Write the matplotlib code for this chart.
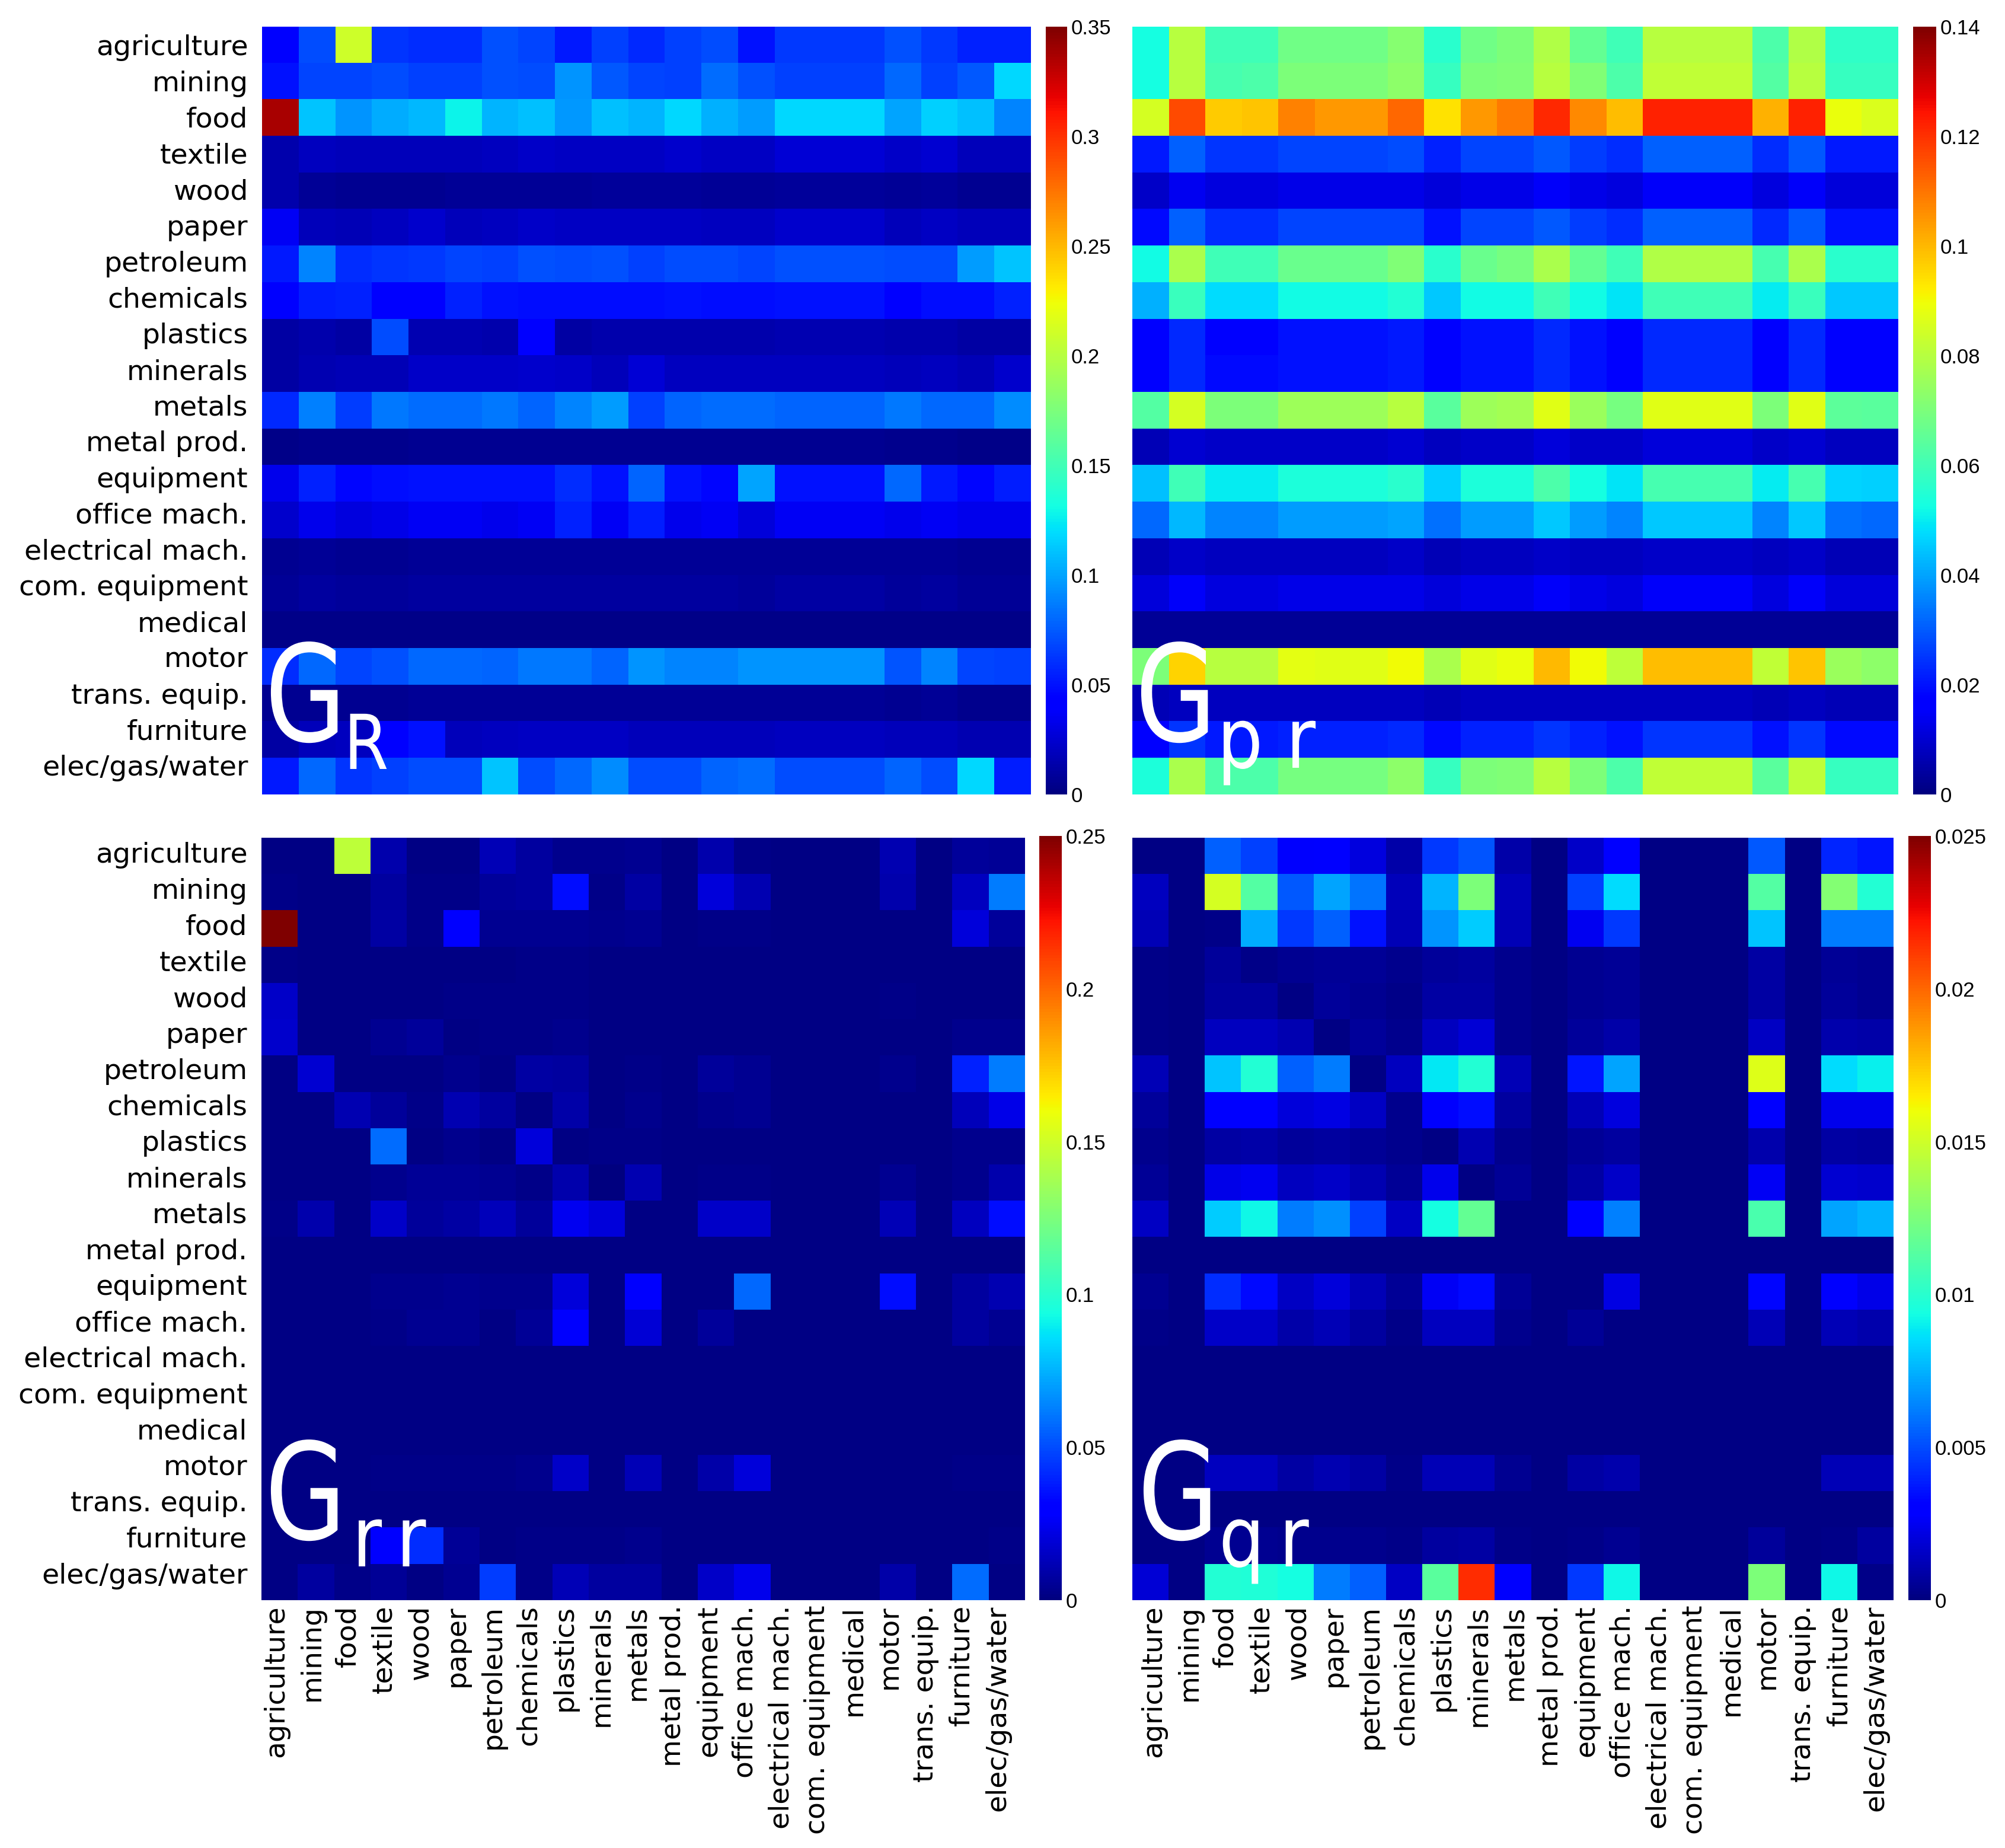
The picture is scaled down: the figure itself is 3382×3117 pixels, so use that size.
import matplotlib
matplotlib.use("Agg")
import matplotlib.patheffects as pe
import matplotlib.pyplot as plt
import numpy as np
from matplotlib.transforms import Affine2D

W, H = 3382, 3117

sectors = ["agriculture", "mining", "food", "textile", "wood", "paper", "petroleum",
           "chemicals", "plastics", "minerals", "metals", "metal prod.", "equipment",
           "office mach.", "electrical mach.", "com. equipment", "medical", "motor",
           "trans. equip.", "furniture", "elec/gas/water"]

G_R = [
    [.045, .07, .21, .062, .06, .06, .072, .068, .052, .066, .058, .066, .07, .05, .064, .064, .064, .072, .064, .055, .056],
    [.05, .068, .068, .07, .066, .066, .072, .07, .095, .074, .068, .066, .082, .072, .066, .066, .066, .08, .066, .074, .118],
    [.337, .112, .095, .103, .108, .128, .106, .11, .097, .11, .106, .118, .104, .098, .118, .118, .118, .1, .115, .11, .09],
    [.014, .02, .018, .019, .019, .019, .02, .022, .021, .021, .021, .024, .021, .021, .026, .026, .026, .022, .025, .019, .019],
    [.014, .007, .006, .006, .006, .007, .008, .008, .008, .009, .009, .009, .008, .008, .009, .009, .009, .008, .009, .006, .006],
    [.036, .018, .017, .02, .024, .018, .02, .022, .021, .021, .021, .021, .02, .02, .024, .024, .024, .019, .021, .018, .018],
    [.052, .09, .06, .062, .064, .068, .066, .072, .07, .072, .066, .07, .07, .068, .072, .072, .072, .07, .07, .098, .112],
    [.04, .054, .055, .045, .045, .056, .05, .048, .048, .048, .048, .05, .048, .048, .05, .05, .05, .044, .048, .048, .056],
    [.012, .014, .012, .07, .016, .016, .014, .04, .012, .014, .014, .014, .014, .014, .016, .016, .016, .014, .014, .012, .012],
    [.012, .016, .017, .017, .022, .023, .022, .024, .023, .018, .026, .02, .02, .02, .02, .02, .02, .019, .02, .017, .024],
    [.058, .088, .065, .085, .082, .082, .086, .078, .09, .098, .066, .078, .082, .082, .078, .078, .078, .086, .08, .08, .092],
    [.004, .005, .005, .005, .006, .006, .006, .006, .006, .006, .006, .006, .006, .006, .006, .006, .006, .005, .005, .004, .004],
    [.034, .055, .046, .048, .05, .05, .05, .05, .06, .05, .078, .05, .046, .1, .05, .05, .05, .08, .052, .046, .054],
    [.024, .034, .03, .032, .036, .036, .034, .036, .056, .036, .054, .034, .036, .028, .036, .036, .036, .034, .036, .034, .034],
    [.006, .007, .006, .006, .007, .007, .007, .007, .007, .007, .007, .007, .007, .007, .008, .008, .008, .007, .007, .006, .006],
    [.008, .01, .009, .009, .01, .01, .01, .01, .01, .01, .01, .01, .01, .009, .011, .011, .011, .009, .01, .008, .008],
    [.003, .003, .003, .003, .003, .003, .003, .003, .003, .003, .003, .003, .003, .003, .003, .003, .003, .003, .003, .003, .003],
    [.06, .08, .068, .072, .08, .08, .078, .085, .085, .078, .095, .09, .09, .095, .095, .095, .095, .073, .09, .068, .066],
    [.006, .006, .006, .006, .007, .007, .007, .007, .007, .007, .007, .007, .007, .007, .007, .007, .007, .006, .007, .005, .005],
    [.012, .018, .02, .042, .05, .018, .02, .021, .021, .021, .019, .019, .019, .019, .02, .02, .02, .019, .019, .016, .016],
    [.052, .08, .062, .066, .07, .07, .112, .07, .08, .092, .07, .07, .078, .082, .07, .07, .07, .078, .07, .118, .054],
]

G_pr = [
    [.053, .08, .06, .06, .068, .068, .068, .072, .056, .068, .07, .079, .066, .06, .08, .08, .08, .062, .079, .057, .057],
    [.053, .08, .061, .062, .07, .07, .07, .073, .058, .07, .071, .08, .071, .062, .082, .082, .082, .063, .08, .058, .058],
    [.085, .116, .097, .098, .108, .105, .105, .112, .094, .105, .109, .121, .107, .099, .122, .122, .122, .101, .122, .089, .086],
    [.021, .031, .025, .025, .027, .027, .027, .028, .022, .027, .027, .03, .026, .024, .031, .031, .031, .024, .03, .021, .021],
    [.009, .014, .012, .012, .013, .013, .013, .013, .011, .013, .013, .015, .013, .012, .015, .015, .015, .012, .015, .011, .011],
    [.019, .031, .024, .024, .027, .027, .027, .027, .02, .027, .027, .03, .026, .024, .031, .031, .031, .023, .03, .02, .02],
    [.052, .078, .06, .06, .067, .067, .067, .071, .056, .067, .069, .078, .066, .06, .079, .079, .079, .061, .078, .056, .056],
    [.042, .059, .048, .048, .052, .052, .052, .055, .045, .052, .052, .06, .052, .049, .06, .06, .06, .05, .059, .045, .045],
    [.016, .023, .018, .018, .02, .02, .02, .021, .017, .02, .02, .023, .02, .018, .023, .023, .023, .018, .023, .017, .017],
    [.016, .023, .019, .019, .02, .02, .02, .021, .017, .02, .02, .023, .02, .018, .023, .023, .023, .018, .023, .017, .017],
    [.063, .085, .07, .07, .076, .076, .076, .08, .064, .076, .077, .087, .075, .069, .087, .087, .087, .07, .087, .065, .064],
    [.007, .01, .009, .009, .009, .009, .009, .01, .008, .009, .009, .011, .009, .009, .011, .011, .011, .009, .01, .008, .008],
    [.044, .06, .05, .05, .054, .054, .054, .056, .046, .054, .054, .062, .053, .049, .061, .061, .061, .05, .061, .047, .046],
    [.032, .043, .036, .036, .039, .039, .039, .04, .033, .039, .039, .045, .039, .036, .045, .045, .045, .036, .045, .033, .032],
    [.007, .009, .008, .008, .008, .008, .008, .009, .007, .008, .008, .009, .008, .008, .009, .009, .009, .008, .009, .007, .007],
    [.011, .015, .012, .012, .013, .013, .013, .013, .011, .013, .013, .015, .013, .012, .015, .015, .015, .012, .015, .011, .011],
    [.003, .003, .003, .003, .003, .003, .003, .003, .003, .003, .003, .003, .003, .003, .003, .003, .003, .003, .003, .003, .003],
    [.07, .096, .08, .08, .088, .087, .087, .09, .078, .087, .089, .1, .09, .081, .099, .099, .099, .082, .098, .075, .073],
    [.007, .008, .008, .008, .008, .008, .008, .008, .007, .008, .008, .008, .008, .008, .008, .008, .008, .007, .008, .007, .007],
    [.018, .025, .021, .021, .022, .022, .022, .023, .019, .022, .022, .025, .022, .02, .025, .025, .025, .02, .025, .019, .019],
    [.054, .078, .062, .062, .069, .069, .069, .073, .058, .07, .071, .08, .07, .062, .082, .082, .082, .064, .081, .058, .058],
]

G_rr = [
    [.001, .001, .145, .01, .001, .001, .012, .007, .003, .003, .004, .001, .01, .002, .001, .001, .001, .011, .001, .006, .005],
    [.002, .001, .001, .007, .002, .002, .006, .007, .035, .002, .008, .001, .02, .011, .001, .001, .001, .01, .001, .014, .062],
    [.25, .001, .001, .008, .002, .03, .004, .004, .004, .003, .004, .001, .002, .002, .001, .001, .001, .001, .001, .02, .006],
    [.002, .001, .001, .001, .001, .001, .001, .002, .002, .001, .001, .001, .001, .001, .001, .001, .001, .001, .001, .001, .001],
    [.016, .001, .001, .001, .001, .002, .002, .002, .002, .001, .001, .001, .001, .001, .001, .001, .001, .002, .001, .001, .001],
    [.017, .001, .001, .004, .006, .001, .002, .002, .003, .001, .001, .001, .001, .001, .001, .001, .001, .001, .001, .003, .003],
    [.001, .018, .001, .001, .001, .003, .001, .008, .007, .001, .002, .001, .006, .004, .001, .001, .001, .003, .001, .04, .062],
    [.001, .001, .011, .006, .002, .011, .007, .001, .009, .001, .003, .001, .003, .004, .001, .001, .001, .001, .001, .013, .023],
    [.001, .001, .001, .058, .001, .003, .001, .02, .001, .002, .002, .001, .001, .001, .001, .001, .001, .001, .001, .003, .003],
    [.001, .001, .001, .003, .005, .005, .004, .002, .01, .0005, .011, .001, .002, .002, .001, .001, .001, .004, .001, .003, .01],
    [.002, .01, .001, .016, .006, .008, .013, .006, .025, .02, .001, .001, .016, .016, .001, .001, .001, .012, .001, .014, .035],
    [.001, .001, .001, .001, .001, .001, .001, .001, .001, .001, .001, .001, .001, .001, .001, .001, .001, .001, .001, .001, .001],
    [.001, .001, .001, .003, .003, .004, .003, .003, .02, .001, .028, .001, .001, .057, .001, .001, .001, .035, .001, .007, .011],
    [.001, .001, .001, .002, .004, .004, .001, .005, .028, .001, .019, .001, .006, .001, .001, .001, .001, .001, .001, .007, .004],
    [.001, .001, .001, .001, .001, .001, .001, .001, .001, .001, .001, .001, .001, .001, .001, .001, .001, .001, .001, .001, .001],
    [.001, .001, .001, .001, .001, .001, .001, .001, .001, .001, .001, .001, .001, .001, .001, .001, .001, .001, .001, .001, .001],
    [.001, .001, .001, .001, .001, .001, .001, .001, .001, .001, .001, .001, .001, .001, .001, .001, .001, .001, .001, .001, .001],
    [.001, .001, .001, .002, .002, .002, .002, .003, .016, .001, .012, .001, .009, .02, .001, .001, .001, .001, .001, .002, .002],
    [.001, .001, .001, .001, .001, .001, .001, .001, .001, .001, .001, .001, .001, .001, .001, .001, .001, .001, .001, .001, .001],
    [.001, .001, .001, .028, .042, .005, .001, .002, .002, .002, .003, .001, .001, .001, .001, .001, .001, .001, .001, .001, .002],
    [.001, .007, .002, .005, .001, .004, .046, .002, .012, .007, .007, .001, .016, .024, .001, .001, .001, .009, .001, .058, .001],
]

G_qr = [
    [.0001, .0001, .0055, .0047, .0028, .003, .0021, .0009, .0045, .0052, .0009, .0001, .0016, .0029, .0001, .0001, .0001, .0053, .0001, .0041, .0037],
    [.0014, .0001, .0152, .0113, .0053, .0072, .006, .0013, .0076, .0125, .0013, .0001, .0047, .0085, .0001, .0001, .0001, .0113, .0001, .0127, .0098],
    [.0012, .0001, .0002, .0074, .0045, .0055, .0036, .0012, .0068, .0082, .0012, .0001, .0025, .0045, .0001, .0001, .0001, .008, .0001, .0062, .0062],
    [.0002, .0001, .0006, .0002, .0004, .0005, .0005, .0003, .0006, .0007, .0003, .0001, .0004, .0005, .0001, .0001, .0001, .0008, .0001, .0005, .0004],
    [.0002, .0001, .0007, .0007, .0001, .0006, .0004, .0002, .0008, .0008, .0003, .0001, .0004, .0005, .0001, .0001, .0001, .0008, .0001, .0006, .0004],
    [.0002, .0001, .0014, .0014, .0011, .0001, .0006, .0003, .0014, .0019, .0003, .0001, .0006, .0009, .0001, .0001, .0001, .0015, .0001, .001, .0009],
    [.0012, .0001, .008, .0098, .0055, .0062, .0001, .0014, .0088, .0098, .0012, .0001, .0037, .0072, .0001, .0001, .0001, .0155, .0001, .0085, .009],
    [.0006, .0001, .0031, .0031, .002, .0022, .0015, .0003, .0028, .0035, .0007, .0001, .0012, .0021, .0001, .0001, .0001, .0032, .0001, .0024, .0024],
    [.0003, .0001, .0008, .0009, .0006, .0007, .0005, .0003, .0001, .0011, .0003, .0001, .0005, .0007, .0001, .0001, .0001, .001, .0001, .0008, .0007],
    [.0005, .0001, .0023, .0025, .0014, .0016, .0011, .0005, .0024, .0001, .0005, .0001, .0008, .0016, .0001, .0001, .0001, .0026, .0001, .0018, .0017],
    [.0015, .0001, .0082, .0092, .0062, .0067, .0047, .0015, .0094, .0118, .0001, .0001, .0031, .0063, .0001, .0001, .0001, .011, .0001, .0072, .0076],
    [.0001, .0001, .0001, .0001, .0001, .0001, .0001, .0001, .0001, .0001, .0001, .0001, .0001, .0001, .0001, .0001, .0001, .0001, .0001, .0001, .0001],
    [.0004, .0001, .0042, .0034, .0015, .002, .0012, .0005, .0026, .0034, .0005, .0001, .0001, .0022, .0001, .0001, .0001, .0033, .0001, .0028, .0023],
    [.0002, .0001, .0016, .0016, .0009, .0012, .0007, .0002, .0014, .0014, .0003, .0001, .0005, .0001, .0001, .0001, .0001, .0012, .0001, .0012, .001],
    [.0001, .0001, .0001, .0001, .0001, .0001, .0001, .0001, .0001, .0001, .0001, .0001, .0001, .0001, .0001, .0001, .0001, .0001, .0001, .0001, .0001],
    [.0001, .0001, .0001, .0001, .0001, .0001, .0001, .0001, .0001, .0001, .0001, .0001, .0001, .0001, .0001, .0001, .0001, .0001, .0001, .0001, .0001],
    [.0001, .0001, .0001, .0001, .0001, .0001, .0001, .0001, .0001, .0001, .0001, .0001, .0001, .0001, .0001, .0001, .0001, .0001, .0001, .0001, .0001],
    [.0001, .0001, .0014, .0014, .0008, .0011, .0008, .0002, .0012, .0012, .0004, .0001, .0008, .001, .0001, .0001, .0001, .0001, .0001, .0012, .0012],
    [.0001, .0001, .0001, .0001, .0001, .0001, .0001, .0001, .0001, .0001, .0001, .0001, .0001, .0001, .0001, .0001, .0001, .0001, .0001, .0001, .0001],
    [.0001, .0001, .0004, .0004, .0003, .0003, .0003, .0002, .0007, .0008, .0002, .0001, .0002, .0004, .0001, .0001, .0001, .0006, .0001, .0002, .0007],
    [.0019, .0001, .0098, .0097, .0094, .0062, .0055, .0015, .0115, .0215, .0028, .0001, .0045, .0092, .0001, .0001, .0001, .0125, .0001, .0092, .0002],
]

R_ticks = [0, .05, .1, .15, .2, .25, .3, .35]
pr_ticks = [0, .02, .04, .06, .08, .1, .12, .14]
rr_ticks = [0, .05, .1, .15, .2, .25]
qr_ticks = [0, .005, .01, .015, .02, .025]


class Narrow(pe.AbstractPathEffect):
    # the big panel letters are squeezed sideways in the original
    def __init__(self, sx):
        super().__init__()
        self.sx = sx

    def draw_path(self, renderer, gc, tpath, affine, rgbFace=None):
        renderer.draw_path(gc, tpath, Affine2D().scale(self.sx, 1) + affine, rgbFace)


def px_axes(fig, x0, y0, x1, y1):
    # pixel box measured from the top left of the picture
    return fig.add_axes([x0 / W, 1 - y1 / H, (x1 - x0) / W, (y1 - y0) / H])


def big_text(fig, x, y, s, size, sx):
    fig.text(x / W, 1 - y / H, s, color="white", fontsize=size, family="DejaVu Sans",
             va="baseline", path_effects=[Narrow(sx)])


def panel(fig, data, box, cbox, ticks, yticks=None, xticks=None):
    ax = px_axes(fig, *box)
    im = ax.imshow(np.array(data), cmap="jet", vmin=0, vmax=ticks[-1],
                   aspect="auto", interpolation="nearest")
    for s in ax.spines.values():
        s.set_visible(False)
    ax.tick_params(axis="y", length=0, pad=17)
    ax.tick_params(axis="x", length=0, pad=6)
    if yticks is None:
        ax.set_yticks([])
    else:
        ax.set_yticks(np.linspace(*yticks, 21))
        ax.set_yticklabels(sectors, fontsize=34)
    if xticks is None:
        ax.set_xticks([])
    else:
        ax.set_xticks(np.linspace(*xticks, 21))
        ax.set_xticklabels(sectors, fontsize=34, rotation=90)

    cax = px_axes(fig, *cbox)
    cb = fig.colorbar(im, cax=cax)
    cb.set_ticks(ticks)
    cb.set_ticklabels([f"{t:g}" for t in ticks])
    cb.outline.set_visible(False)
    cb.ax.tick_params(length=0, pad=5, labelsize=25)
    for t in cb.ax.get_yticklabels():
        t.set_fontfamily("Liberation Sans")


def main():
    fig = plt.figure(figsize=(W / 100, H / 100), dpi=100)
    panel(fig, G_R, (442, 45, 1739, 1340), (1764, 45, 1800, 1340), R_ticks, yticks=(0, 19.7))
    panel(fig, G_pr, (1910, 45, 3202, 1340), (3227, 45, 3266, 1340), pr_ticks)
    panel(fig, G_rr, (441, 1413, 1729, 2699), (1753, 1410, 1791, 2699), rr_ticks,
          yticks=(-.1, 19.75), xticks=(-.1, 19.75))
    panel(fig, G_qr, (1910, 1413, 3194, 2699), (3219, 1410, 3257, 2699), qr_ticks, xticks=(.08, 20))

    big_text(fig, 447, 1250, "G", 163, .78)
    big_text(fig, 1915, 1250, "G", 163, .78)
    big_text(fig, 447, 2596, "G", 163, .78)
    big_text(fig, 1919, 2596, "G", 163, .78)
    big_text(fig, 580, 1297, "R", 92, .85)
    big_text(fig, 2053, 1295, "p r", 102, .86)
    big_text(fig, 594, 2642, "r\u2009r", 102, .86)
    big_text(fig, 2056, 2642, "q\u2009r", 102, .86)

    fig.savefig("out.png", dpi=100)
    plt.close(fig)


if __name__ == "__main__":
    main()
